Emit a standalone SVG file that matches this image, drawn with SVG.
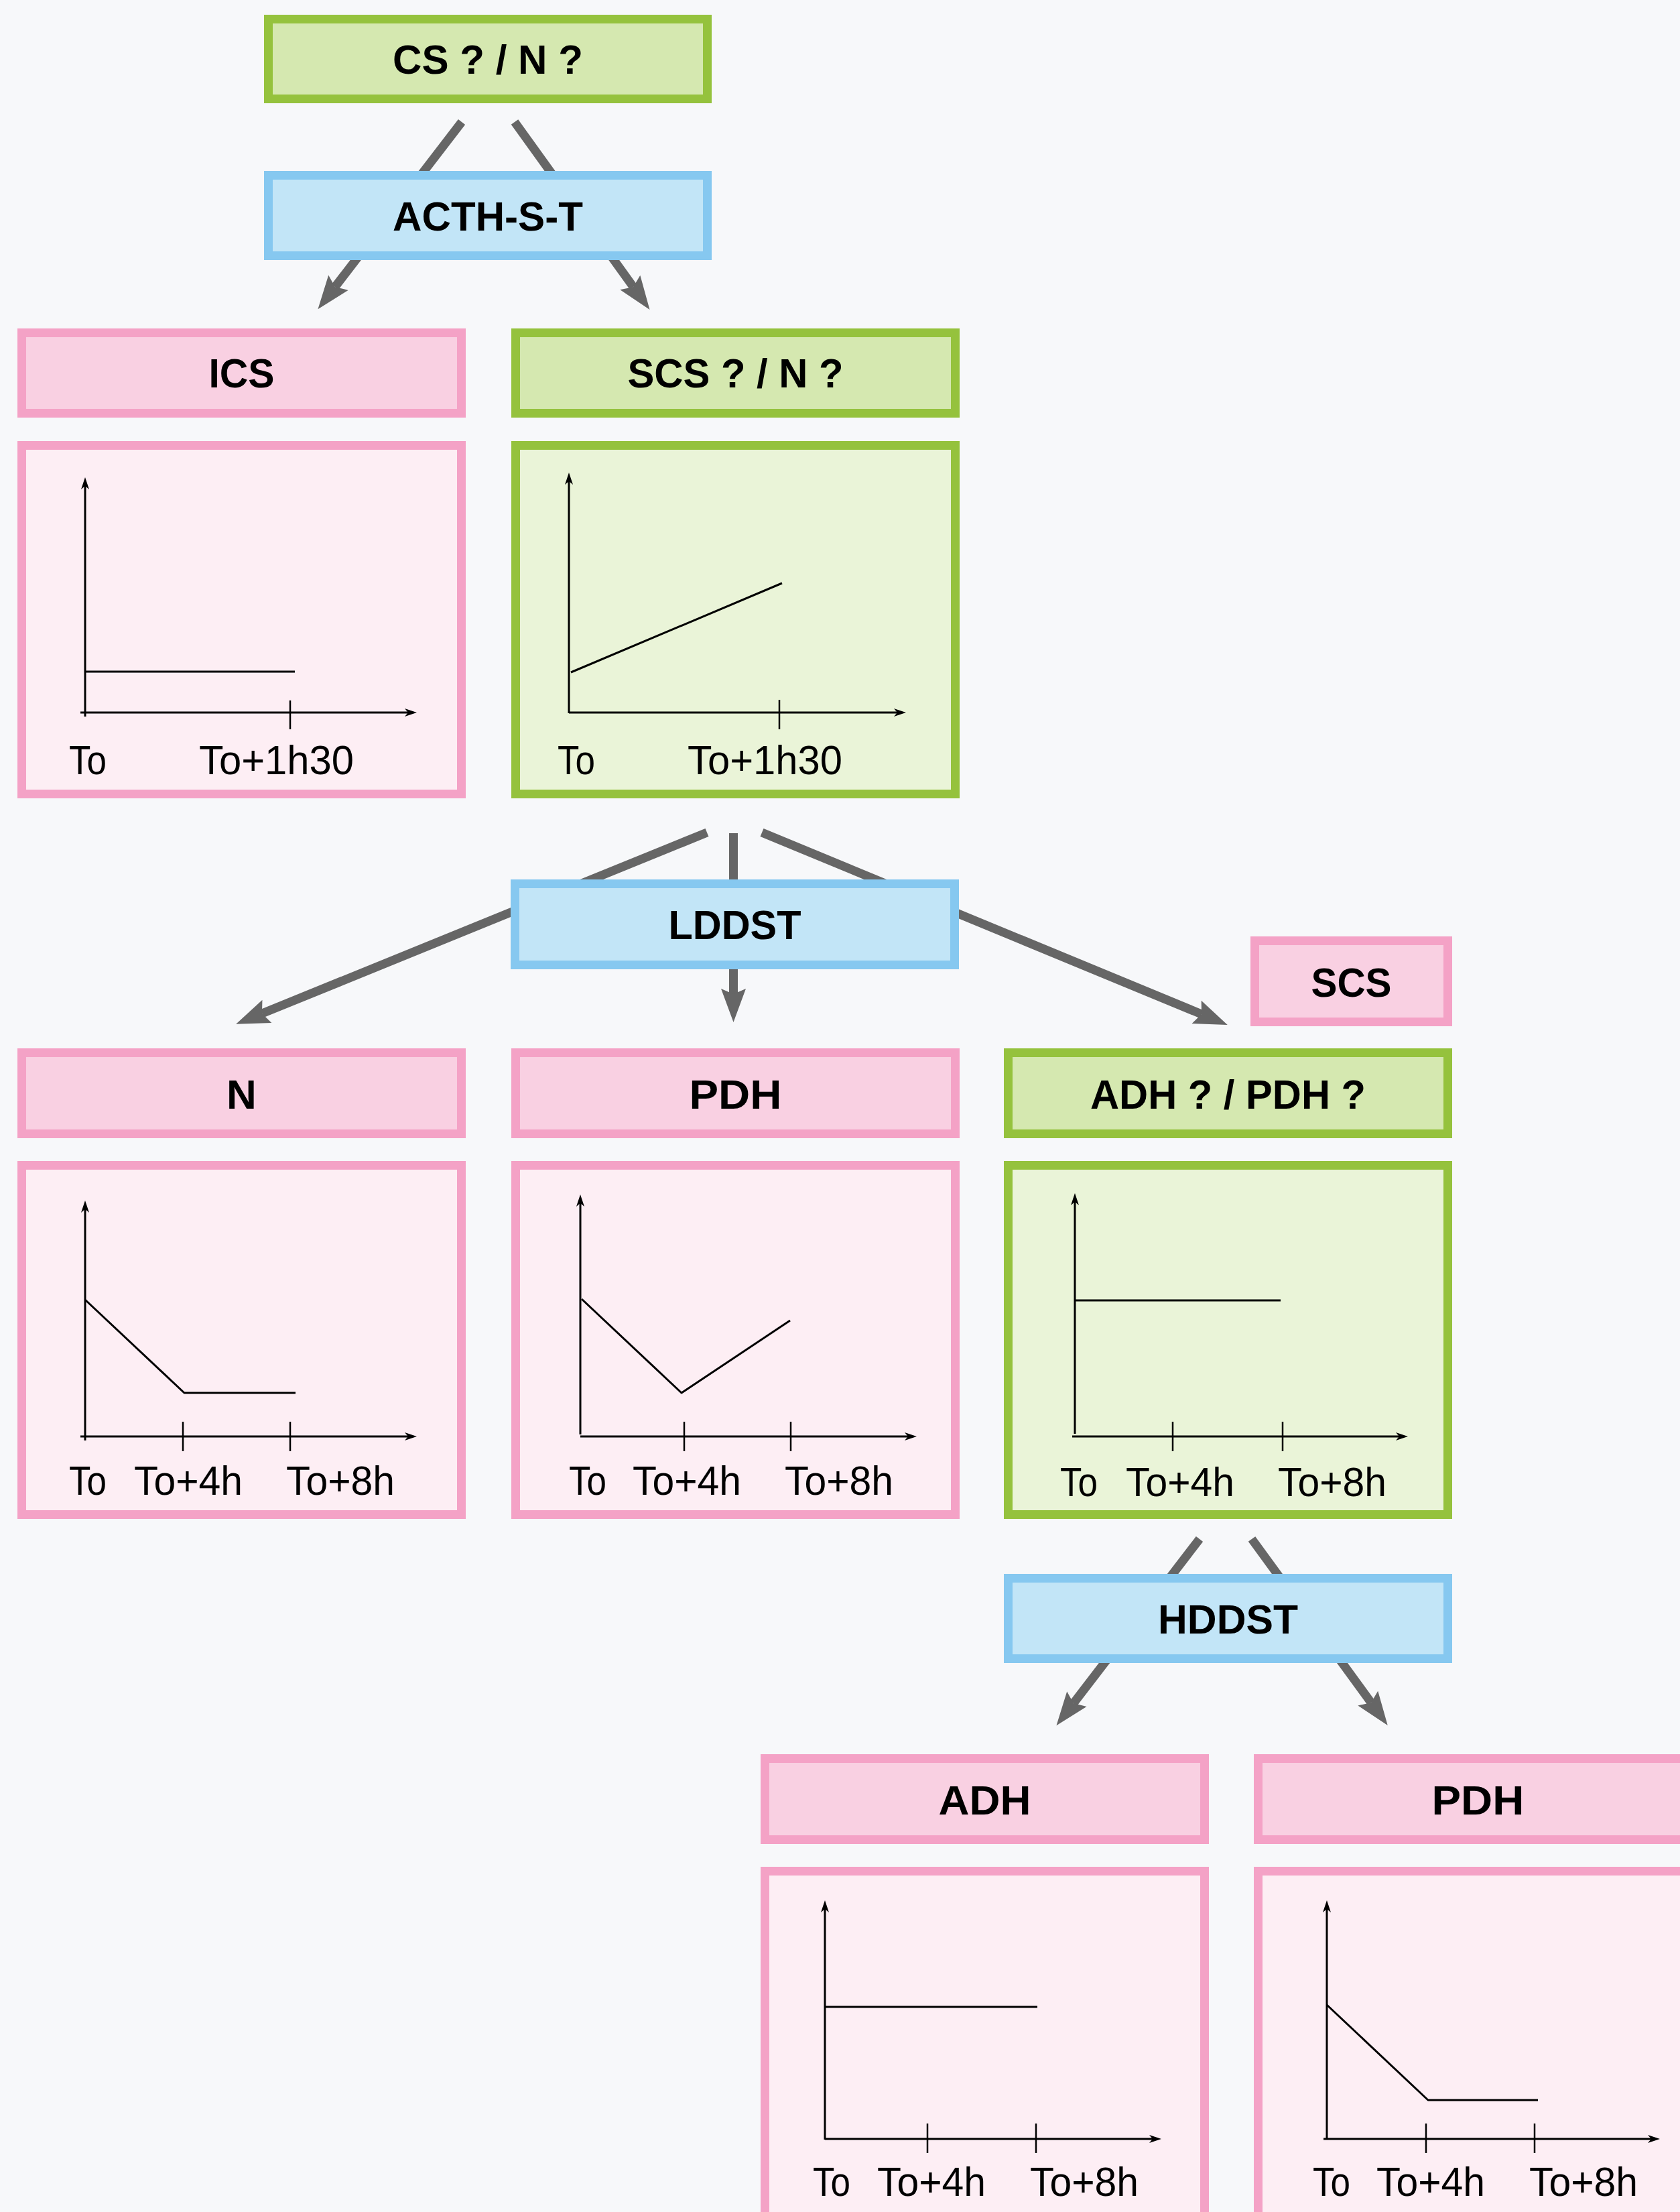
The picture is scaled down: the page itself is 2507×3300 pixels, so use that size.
<svg xmlns="http://www.w3.org/2000/svg" width="2507" height="3300" viewBox="0 0 2507 3300">
<defs>
<style>
.bg{fill:#f7f8fa}
.g{fill:#d5e8b0;stroke:#95c23d;stroke-width:13}
.gg{fill:#eaf4d8;stroke:#95c23d;stroke-width:13}
.p{fill:#f9d0e2;stroke:#f4a2c6;stroke-width:13}
.pg{fill:#fdeef4;stroke:#f4a2c6;stroke-width:13}
.b{fill:#c2e5f7;stroke:#86c8f0;stroke-width:13}
.h{font-family:"Liberation Sans",Arial,sans-serif;font-weight:bold;font-size:62px;fill:#000;text-anchor:middle}
.l{font-family:"Liberation Sans",Arial,sans-serif;font-size:61px;fill:#000}
.ya{stroke:#000;stroke-width:3;fill:none;marker-end:url(#axh)}
.tk{stroke:#000;stroke-width:2.5}
.d{stroke:#000;stroke-width:3;fill:none;stroke-linejoin:round}
.c{stroke:#666;stroke-width:13;fill:none;marker-end:url(#ah)}
</style>
<marker id="ah" markerUnits="userSpaceOnUse" viewBox="-52 -20 54 40" markerWidth="54" markerHeight="40" refX="-42" refY="0" orient="auto">
<path d="M0,0 L-50,-18.5 Q-45,-7 -42,0 Q-45,7 -50,18.5 Z" fill="#666"/>
</marker>
<marker id="axh" markerUnits="userSpaceOnUse" viewBox="-20 -8 22 16" markerWidth="22" markerHeight="16" refX="-13" refY="0" orient="auto">
<path d="M0,0 L-18,-6 L-13,0 L-18,6 Z" fill="#000"/>
</marker>
</defs>
<rect class="bg" x="0" y="0" width="2507" height="3300"/>

<g id="connectors">
<line class="c" x1="689" y1="182" x2="500" y2="428"/>
<line class="c" x1="768" y1="182" x2="945" y2="428"/>
<line class="c" x1="1055" y1="1242" x2="391" y2="1512"/>
<line class="c" x1="1094.5" y1="1243" x2="1094.5" y2="1483"/>
<line class="c" x1="1137" y1="1242" x2="1793" y2="1513"/>
<line class="c" x1="1790" y1="2296" x2="1602" y2="2541"/>
<line class="c" x1="1868" y1="2296" x2="2046" y2="2540"/>
</g>

<g id="node-cs">
<rect class="g" x="400.5" y="28.5" width="655" height="119"/>
<text class="h" x="728" y="110" textLength="284" lengthAdjust="spacingAndGlyphs">CS ? / N ?</text>
</g>
<g id="node-acth">
<rect class="b" x="400.5" y="261.5" width="655" height="120"/>
<text class="h" x="728" y="344" textLength="284" lengthAdjust="spacingAndGlyphs">ACTH-S-T</text>
</g>

<g id="node-ics">
<rect class="p" x="32.5" y="496.5" width="656" height="120"/>
<text class="h" x="360.5" y="578" textLength="98" lengthAdjust="spacingAndGlyphs">ICS</text>
</g>
<g id="node-ics-graph">
<rect class="pg" x="32.5" y="664.5" width="656" height="520"/>
<line class="ya" x1="127" y1="1069" x2="127" y2="725"/>
<line class="ya" x1="120" y1="1063" x2="609" y2="1063"/>
<line class="tk" x1="433" y1="1045" x2="433" y2="1088"/>
<path class="d" d="M127,1002 H440"/>
<text class="l" x="103" y="1155" textLength="56" lengthAdjust="spacingAndGlyphs">To</text>
<text class="l" x="297" y="1155" textLength="231" lengthAdjust="spacingAndGlyphs">To+1h30</text>
</g>

<g id="node-scs-n">
<rect class="g" x="769.5" y="496.5" width="656" height="120"/>
<text class="h" x="1097.5" y="578" textLength="322" lengthAdjust="spacingAndGlyphs">SCS ? / N ?</text>
</g>
<g id="node-scs-n-graph">
<rect class="gg" x="769.5" y="664.5" width="656" height="520"/>
<line class="ya" x1="849" y1="1064" x2="849" y2="718"/>
<line class="ya" x1="849" y1="1063" x2="1339" y2="1063"/>
<line class="tk" x1="1163" y1="1044" x2="1163" y2="1088"/>
<path class="d" d="M852,1003 L1167,870"/>
<text class="l" x="832" y="1155" textLength="56" lengthAdjust="spacingAndGlyphs">To</text>
<text class="l" x="1026" y="1155" textLength="231" lengthAdjust="spacingAndGlyphs">To+1h30</text>
</g>

<g id="node-lddst">
<rect class="b" x="768.5" y="1318.5" width="656" height="121"/>
<text class="h" x="1096.5" y="1401" textLength="198" lengthAdjust="spacingAndGlyphs">LDDST</text>
</g>

<g id="node-scs">
<rect class="p" x="1872.5" y="1403.5" width="288" height="121"/>
<text class="h" x="2016.5" y="1487" textLength="120" lengthAdjust="spacingAndGlyphs">SCS</text>
</g>

<g id="node-n">
<rect class="p" x="32.5" y="1570.5" width="656" height="121"/>
<text class="h" x="360.5" y="1654">N</text>
</g>
<g id="node-n-graph">
<rect class="pg" x="32.5" y="1738.5" width="656" height="521"/>
<line class="ya" x1="127" y1="2149" x2="127" y2="1804"/>
<line class="ya" x1="120" y1="2143" x2="609" y2="2143"/>
<line class="tk" x1="273" y1="2121" x2="273" y2="2165"/>
<line class="tk" x1="433" y1="2121" x2="433" y2="2165"/>
<path class="d" d="M127,1939 L275,2078 H441"/>
<text class="l" x="103" y="2230" textLength="56" lengthAdjust="spacingAndGlyphs">To</text>
<text class="l" x="200" y="2230" textLength="162" lengthAdjust="spacingAndGlyphs">To+4h</text>
<text class="l" x="427" y="2230" textLength="162" lengthAdjust="spacingAndGlyphs">To+8h</text>
</g>

<g id="node-pdh">
<rect class="p" x="769.5" y="1570.5" width="656" height="121"/>
<text class="h" x="1097.5" y="1654" textLength="138" lengthAdjust="spacingAndGlyphs">PDH</text>
</g>
<g id="node-pdh-graph">
<rect class="pg" x="769.5" y="1738.5" width="656" height="521"/>
<line class="ya" x1="866" y1="2140" x2="866" y2="1795"/>
<line class="ya" x1="866" y1="2143" x2="1355" y2="2143"/>
<line class="tk" x1="1021" y1="2121" x2="1021" y2="2165"/>
<line class="tk" x1="1180" y1="2121" x2="1180" y2="2165"/>
<path class="d" d="M868,1938 L1017,2078 L1179,1970"/>
<text class="l" x="849" y="2230" textLength="56" lengthAdjust="spacingAndGlyphs">To</text>
<text class="l" x="944" y="2230" textLength="162" lengthAdjust="spacingAndGlyphs">To+4h</text>
<text class="l" x="1171" y="2230" textLength="162" lengthAdjust="spacingAndGlyphs">To+8h</text>
</g>

<g id="node-adh-pdh">
<rect class="g" x="1504.5" y="1570.5" width="656" height="121"/>
<text class="h" x="1832.5" y="1654" textLength="411" lengthAdjust="spacingAndGlyphs">ADH ? / PDH ?</text>
</g>
<g id="node-adh-pdh-graph">
<rect class="gg" x="1504.5" y="1738.5" width="656" height="521"/>
<line class="ya" x1="1604" y1="2139" x2="1604" y2="1793"/>
<line class="ya" x1="1600" y1="2143" x2="2088" y2="2143"/>
<line class="tk" x1="1750" y1="2121" x2="1750" y2="2165"/>
<line class="tk" x1="1914" y1="2121" x2="1914" y2="2165"/>
<path class="d" d="M1604,1940 H1911"/>
<text class="l" x="1582" y="2232" textLength="56" lengthAdjust="spacingAndGlyphs">To</text>
<text class="l" x="1680" y="2232" textLength="162" lengthAdjust="spacingAndGlyphs">To+4h</text>
<text class="l" x="1907" y="2232" textLength="162" lengthAdjust="spacingAndGlyphs">To+8h</text>
</g>

<g id="node-hddst">
<rect class="b" x="1504.5" y="2354.5" width="656" height="120"/>
<text class="h" x="1832.5" y="2437" textLength="209" lengthAdjust="spacingAndGlyphs">HDDST</text>
</g>

<g id="node-adh">
<rect class="p" x="1141.5" y="2623.5" width="656" height="121"/>
<text class="h" x="1469.5" y="2707" textLength="138" lengthAdjust="spacingAndGlyphs">ADH</text>
</g>
<g id="node-adh-graph">
<rect class="pg" x="1141.5" y="2791.5" width="656" height="560"/>
<line class="ya" x1="1231" y1="3192" x2="1231" y2="2848"/>
<line class="ya" x1="1231" y1="3191" x2="1720" y2="3191"/>
<line class="tk" x1="1384" y1="3168" x2="1384" y2="3212"/>
<line class="tk" x1="1546" y1="3168" x2="1546" y2="3212"/>
<path class="d" d="M1231,2994 H1548"/>
<text class="l" x="1213" y="3276" textLength="56" lengthAdjust="spacingAndGlyphs">To</text>
<text class="l" x="1309" y="3276" textLength="162" lengthAdjust="spacingAndGlyphs">To+4h</text>
<text class="l" x="1537" y="3276" textLength="162" lengthAdjust="spacingAndGlyphs">To+8h</text>
</g>

<g id="node-pdh2">
<rect class="p" x="1877.5" y="2623.5" width="656" height="121"/>
<text class="h" x="2205.5" y="2707" textLength="138" lengthAdjust="spacingAndGlyphs">PDH</text>
</g>
<g id="node-pdh2-graph">
<rect class="pg" x="1877.5" y="2791.5" width="656" height="560"/>
<line class="ya" x1="1980" y1="3192" x2="1980" y2="2848"/>
<line class="ya" x1="1975" y1="3191" x2="2464" y2="3191"/>
<line class="tk" x1="2128" y1="3168" x2="2128" y2="3212"/>
<line class="tk" x1="2290" y1="3168" x2="2290" y2="3212"/>
<path class="d" d="M1980,2991 L2131,3133 H2295"/>
<text class="l" x="1959" y="3276" textLength="56" lengthAdjust="spacingAndGlyphs">To</text>
<text class="l" x="2054" y="3276" textLength="162" lengthAdjust="spacingAndGlyphs">To+4h</text>
<text class="l" x="2282" y="3276" textLength="162" lengthAdjust="spacingAndGlyphs">To+8h</text>
</g>
</svg>
